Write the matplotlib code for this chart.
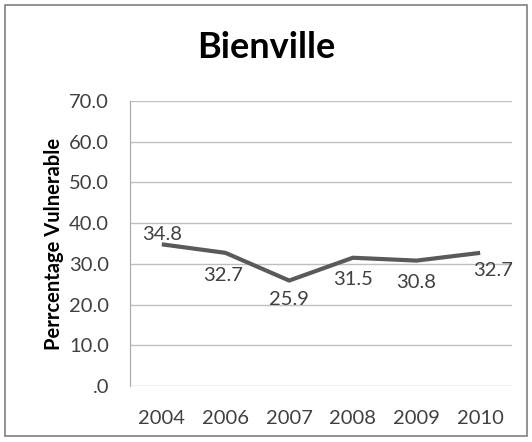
import matplotlib.pyplot as plt
from matplotlib.patches import Rectangle

years = ["2004", "2006", "2007", "2008", "2009", "2010"]
values = [34.8, 32.7, 25.9, 31.5, 30.8, 32.7]
# label offsets in points (dx, dy)
label_offsets = [(0, 7), (-2, -16), (0, -14), (0, -16), (0, -16), (9, -13)]

plt.rcParams['font.family'] = ['Lato', 'DejaVu Sans']

fig = plt.figure(figsize=(5.32, 4.42), dpi=100)
ax = fig.add_axes([130 / 532, 1 - 386 / 442, 382 / 532, 285 / 442])

x = list(range(len(years)))
ax.plot(x, values, color="#5a5a5a", linewidth=3, solid_capstyle="butt")

for xi, v, (dx, dy) in zip(x, values, label_offsets):
    ax.annotate(f"{v:.1f}", (xi, v), xytext=(dx, dy), textcoords="offset points",
                ha="center", va="center", fontsize=14.5, color="#404040")

ax.set_xlim(-0.5, len(years) - 0.5)
ax.set_ylim(0, 70)
ax.set_yticks(range(0, 71, 10))
ax.set_yticklabels([".0"] + [f"{t:.1f}" for t in range(10, 71, 10)])
ax.set_xticks(x)
ax.set_xticklabels(years)
ax.tick_params(axis="both", length=0, labelsize=14.5, colors="#404040")
ax.tick_params(axis="x", pad=17)
ax.tick_params(axis="y", pad=15)

ax.grid(axis="y", color="#bfbfbf", linewidth=1)
ax.set_axisbelow(True)
for side in ["top", "right", "bottom"]:
    ax.spines[side].set_visible(False)
ax.spines["left"].set_color("#a6a6a6")

ax.set_ylabel("Perrcentage Vulnerable", fontsize=14.5, fontweight="bold", labelpad=4)
fig.text(0.5, 1 - 48 / 442, "Bienville", ha="center", va="center",
         fontsize=26, fontweight="bold")

fig.patches.append(Rectangle((5 / 532, 6 / 442), 522 / 532, 431 / 442,
                             transform=fig.transFigure, fill=False,
                             edgecolor="#808080", linewidth=1.2))

fig.savefig("out.png", dpi=100)
